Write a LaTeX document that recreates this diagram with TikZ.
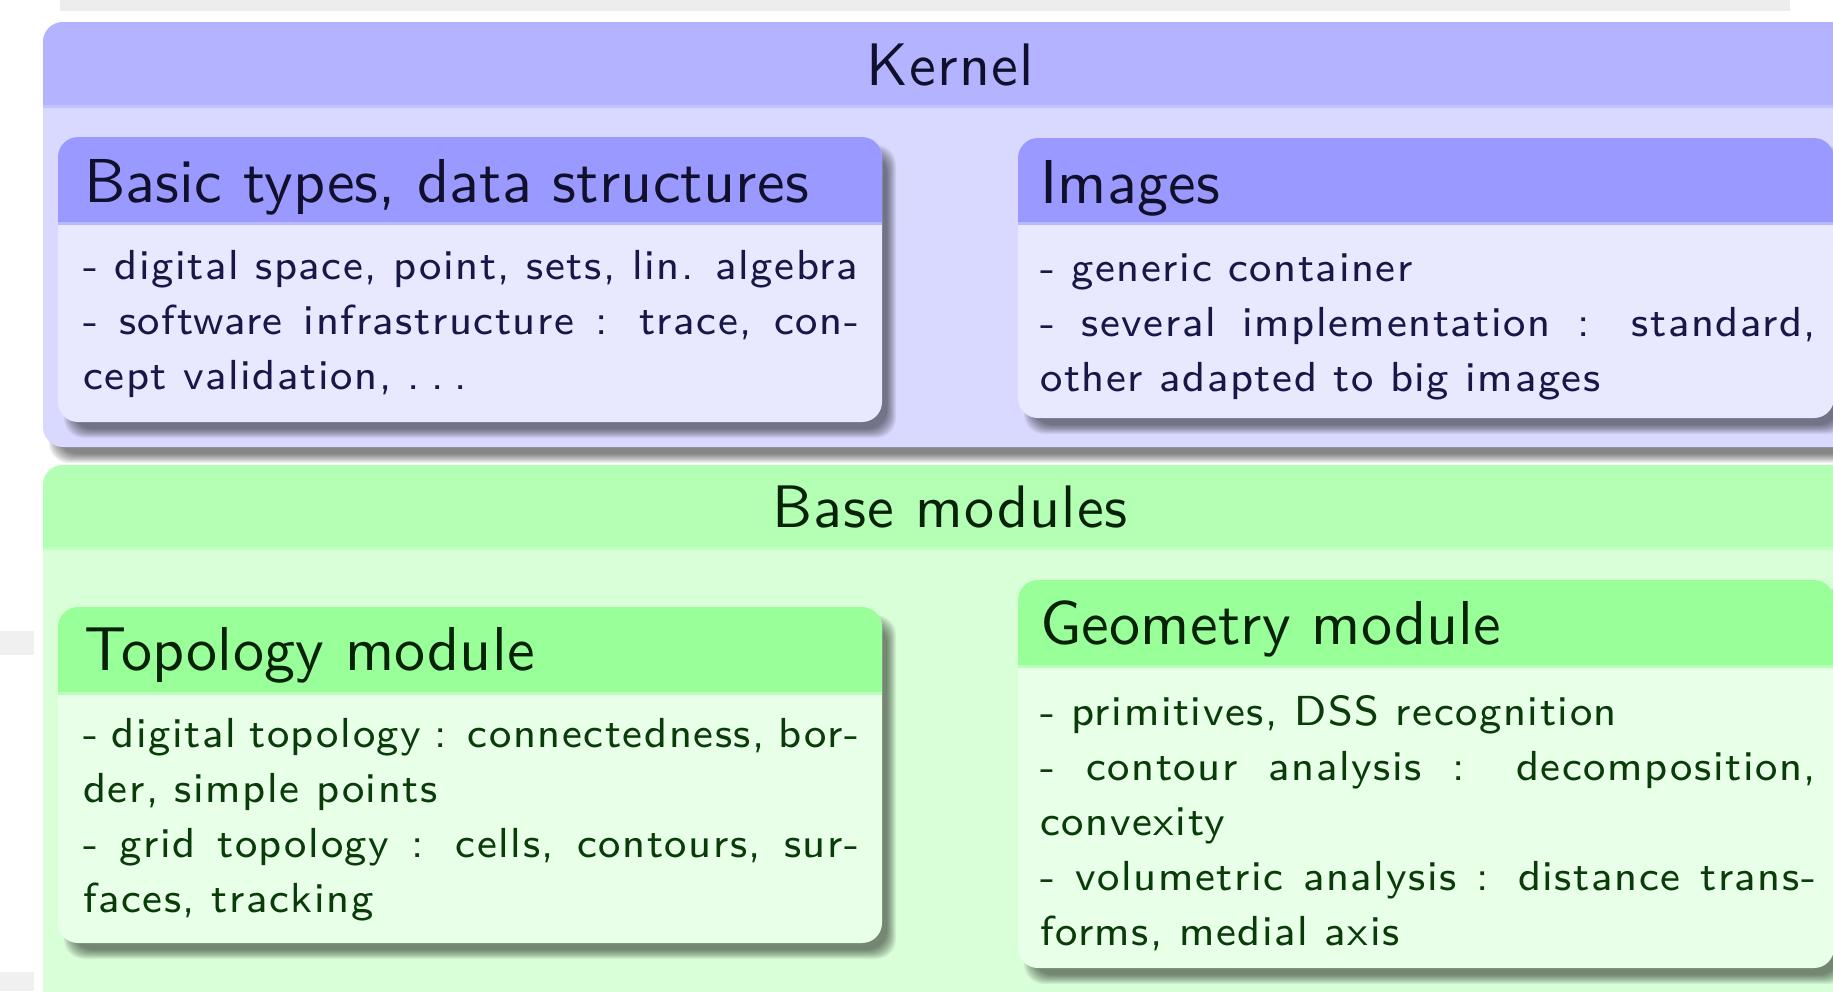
\documentclass[tikz,border=0pt]{standalone}
\usepackage{fontspec}
\newfontfamily\bodyfont{lmsans8-regular.otf}[LetterSpace=3.8]
\newfontfamily\titlefont{lmsans10-regular.otf}[LetterSpace=0.4]
\newfontfamily\outerfont{lmsans10-regular.otf}[LetterSpace=2]
\definecolor{khdr}{RGB}{179,179,255}
\definecolor{kbody}{RGB}{217,217,255}
\definecolor{ihdr}{RGB}{153,153,255}
\definecolor{ibody}{RGB}{232,232,255}
\definecolor{bhdr}{RGB}{179,255,179}
\definecolor{bbody}{RGB}{217,255,217}
\definecolor{ghdr}{RGB}{153,255,153}
\definecolor{gbody}{RGB}{232,255,232}
\definecolor{ktxt}{RGB}{16,16,44}
\definecolor{kbtxt}{RGB}{24,24,72}
\definecolor{gtxt}{RGB}{8,34,8}
\definecolor{gbtxt}{RGB}{10,60,10}
\newcommand\jl[1]{\makebox[776pt][s]{#1}}
% block: x1 y1 x2 y2 headerbottom headercolor bodycolor
\newcommand\blk[7]{%
  \foreach \k in {0,...,9}{
    \fill[black,opacity=0.06,rounded corners=20pt]
      (#1+15-\k,#2+17-\k) rectangle (#3+5+\k,#4+7+\k);
  }
  \fill[#7,rounded corners=20pt] (#1,#2) rectangle (#3,#4);
  \begin{scope}
    \clip (#1,#2) rectangle (#3,#5);
    \fill[#6,rounded corners=20pt] (#1,#2) rectangle (#3,#4);
  \end{scope}
  \fill[#6!60!#7] (#1,#5) rectangle (#3,#5+3);
}
\tikzset{
  outer title/.style={inner sep=0pt,font=\outerfont\fontsize{60}{72}\selectfont},
  block title/.style={inner sep=0pt,font=\titlefont\fontsize{62}{74}\selectfont},
  block body/.style={inner sep=0pt,align=left,font=\bodyfont\fontsize{42}{55}\selectfont},
}
\begin{document}
\begin{tikzpicture}[x=1pt,y=-1pt]
\useasboundingbox (0,0) rectangle (1833,991);
\clip (0,0) rectangle (1833,991);
\fill[white] (0,0) rectangle (1833,991);
% screenshot remnants
\fill[black!7] (60,0) rectangle (1790,11);
\fill[black!6] (0,631) rectangle (34,655);
\fill[black!6] (0,972) rectangle (34,991);
% outer blocks
\blk{43}{22}{1857}{447}{105}{khdr}{kbody}
\blk{43}{465}{1857}{1040}{547}{bhdr}{bbody}
% inner blocks
\blk{58}{137}{882}{422}{222}{ihdr}{ibody}
\blk{1018}{138}{1834}{418}{222}{ihdr}{ibody}
\blk{58}{607}{882}{943}{692}{ghdr}{gbody}
\blk{1018}{580}{1834}{968}{665}{ghdr}{gbody}
% titles
\node[outer title,text=ktxt,anchor=base] (kernel) at (950,85) {Kernel};
\node[outer title,text=gtxt,anchor=base] (basemod) at (950,527) {Base modules};
\node[block title,text=ktxt,anchor=base west] (basictitle) at (84,202) {Basic types, data structures};
\node[block title,text=ktxt,anchor=base west] (imgtitle) at (1040,203) {Images};
\node[block title,text=gtxt,anchor=base west] (topotitle) at (84,670) {Topology module};
\node[block title,text=gtxt,anchor=base west] (geomtitle) at (1040,644) {Geometry module};
% bodies
\node[block body,text=kbtxt,anchor=north west] (basicbody) at (83,240.5)
  {\strut - digital space, point, sets, lin. algebra\\
   \jl{- software infrastructure : trace, con-}\\
   cept validation, .\kern11pt.\kern11pt.};
\node[block body,text=kbtxt,anchor=north west] (imgbody) at (1040,242.5)
  {\strut - generic container\\
   \jl{- several implementation : standard,}\\
   other adapted to big images};
\node[block body,text=gbtxt,anchor=north west] (topobody) at (83,708.5)
  {\strut\jl{- digital topology : connectedness, bor-}\\
   der, simple points\\
   \jl{- grid topology : cells, contours, sur-}\\
   faces, tracking};
\node[block body,text=gbtxt,anchor=north west] (geombody) at (1040,686.5)
  {\strut - primitives, DSS recognition\\
   \jl{- contour analysis : decomposition,}\\
   convexity\\
   \jl{- volumetric analysis : distance trans-}\\
   forms, medial axis};
\end{tikzpicture}
\end{document}
